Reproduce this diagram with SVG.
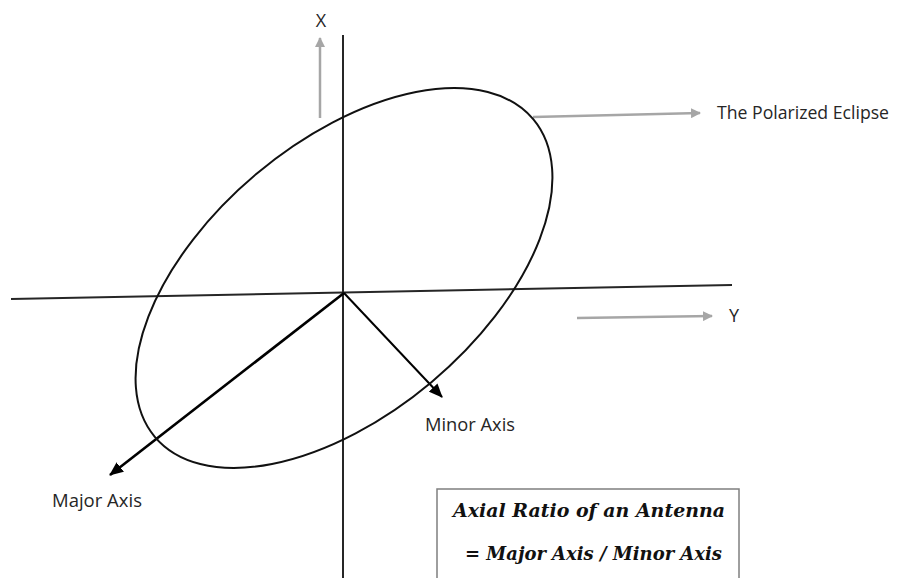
<svg xmlns="http://www.w3.org/2000/svg" width="901" height="578" viewBox="0 0 901 578">
<style>
.ax{stroke:#262626;stroke-width:2;fill:none}
.el{stroke:#111;stroke-width:2;fill:none}
.gr{stroke:#a6a6a6;stroke-width:2.5;fill:none}
.bk{stroke:#000;fill:none}
.lbl{font-family:"Open Sans","Liberation Sans",Arial,sans-serif;font-size:18px;fill:#262626}
.eq{font-family:"DejaVu Serif","Liberation Serif",serif;font-size:18px;font-weight:bold;font-style:italic;fill:#111}
</style>
<defs>
<marker id="ga" markerWidth="10" markerHeight="10" refX="9" refY="5" orient="auto" markerUnits="userSpaceOnUse" viewBox="0 0 10 10">
<path d="M0,0 L10,5 L0,10 z" fill="#a6a6a6"/>
</marker>
<marker id="ba" markerWidth="14" markerHeight="12" refX="13" refY="6" orient="auto" markerUnits="userSpaceOnUse" viewBox="0 0 14 12">
<path d="M0,0 L14,6 L0,12 z" fill="#000"/>
</marker>
</defs>
<rect width="901" height="578" fill="#fff"/>
<g id="connectors">
<line class="ax" x1="343" y1="35" x2="343" y2="578"/>
<line class="ax" x1="11" y1="299" x2="732" y2="285"/>
<line class="gr" x1="320" y1="118" x2="320" y2="38" marker-end="url(#ga)"/>
<line class="gr" x1="533" y1="117" x2="700" y2="113" marker-end="url(#ga)"/>
<line class="gr" x1="577" y1="318" x2="712" y2="316" marker-end="url(#ga)"/>
<line class="bk" stroke-width="2.6" x1="344" y1="293" x2="110" y2="475" marker-end="url(#ba)"/>
<line class="bk" stroke-width="2" x1="344" y1="293" x2="442" y2="397" marker-end="url(#ba)"/>
</g>
<g id="ellipse">
<ellipse class="el" cx="344" cy="278" rx="247" ry="136" transform="rotate(-40 344 278)"/>
</g>
<g id="label-x"><text class="lbl" x="321" y="27" text-anchor="middle">X</text></g>
<g id="label-y"><text class="lbl" x="734" y="322" text-anchor="middle">Y</text></g>
<g id="label-eclipse"><text class="lbl" x="717" y="119" textLength="172" lengthAdjust="spacingAndGlyphs">The Polarized Eclipse</text></g>
<g id="label-minor"><text class="lbl" x="425" y="431" textLength="90" lengthAdjust="spacingAndGlyphs">Minor Axis</text></g>
<g id="label-major"><text class="lbl" x="52" y="507" textLength="90" lengthAdjust="spacingAndGlyphs">Major Axis</text></g>
<g id="formula">
<rect x="437" y="489" width="302" height="100" fill="none" stroke="#7f7f7f" stroke-width="1.5"/>
<text class="eq" x="453" y="517" textLength="272" lengthAdjust="spacingAndGlyphs">Axial Ratio of an Antenna</text>
<text class="eq" x="465" y="560" textLength="257" lengthAdjust="spacingAndGlyphs">= Major Axis / Minor Axis</text>
</g>
</svg>
